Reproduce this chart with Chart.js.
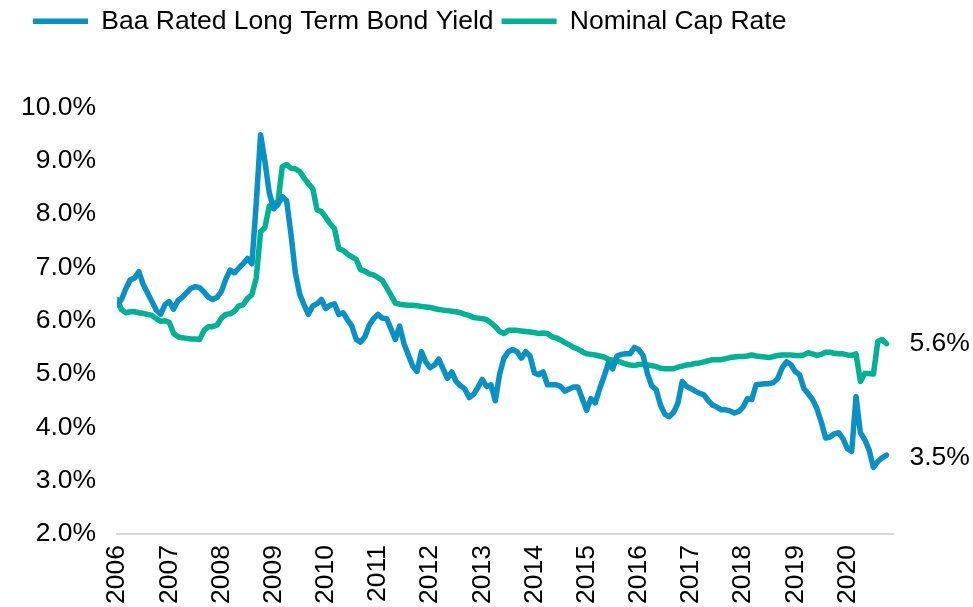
<!DOCTYPE html>
<html>
<head>
<meta charset="utf-8">
<script src="https://cdn.jsdelivr.net/npm/chart.js@4.4.1/dist/chart.umd.min.js"></script>
<style>
  html, body { margin: 0; padding: 0; background: #fff; }
  #wrap { width: 973px; height: 607px; }
</style>
</head>
<body>
<div id="wrap"><canvas id="yieldChart"></canvas></div>
<script>
// monthly, Jan 2006 .. Oct 2020
const years = ['2006','2007','2008','2009','2010','2011','2012','2013','2014','2015','2016','2017','2018','2019','2020'];

const baaYield = [
  6.30,6.40,6.60,6.77,6.80,6.92,6.68,6.52,6.36,6.20,6.12,6.30, // 2006
  6.36,6.22,6.38,6.44,6.53,6.61,6.64,6.62,6.54,6.44,6.40,6.44, // 2007
  6.55,6.78,6.95,6.90,6.99,7.07,7.17,7.07,8.20,9.49,8.99,8.40, // 2008
  8.10,8.18,8.33,8.25,7.62,6.90,6.50,6.30,6.12,6.28,6.32,6.40, // 2009
  6.23,6.29,6.32,6.12,6.15,6.02,5.90,5.65,5.60,5.70,5.92,6.04, // 2010
  6.12,6.05,6.04,5.85,5.65,5.90,5.57,5.36,5.15,5.05,5.42,5.23, // 2011
  5.12,5.17,5.28,5.10,4.92,5.04,4.86,4.78,4.72,4.56,4.62,4.75, // 2012
  4.90,4.77,4.80,4.50,5.00,5.30,5.42,5.46,5.42,5.30,5.42,5.34, // 2013
  5.02,4.99,5.04,4.80,4.80,4.80,4.77,4.68,4.72,4.76,4.76,4.54, // 2014
  4.32,4.54,4.46,4.72,4.95,5.20,5.10,5.34,5.37,5.38,5.38,5.50, // 2015
  5.46,5.35,5.01,4.78,4.71,4.42,4.25,4.20,4.28,4.45,4.86,4.77, // 2016
  4.73,4.68,4.64,4.61,4.50,4.42,4.38,4.33,4.33,4.31,4.27,4.30, // 2017
  4.38,4.54,4.52,4.80,4.81,4.82,4.82,4.84,4.92,5.12,5.23,5.18, // 2018
  5.05,4.99,4.73,4.63,4.52,4.35,4.10,3.80,3.82,3.88,3.90,3.79, // 2019
  3.60,3.55,4.58,3.90,3.77,3.58,3.25,3.36,3.43,3.48            // 2020
];

const capRate = [
  6.40,6.21,6.15,6.17,6.17,6.15,6.14,6.12,6.10,6.04,5.99,6.00, // 2006
  5.97,5.76,5.70,5.68,5.67,5.66,5.66,5.65,5.82,5.89,5.89,5.92, // 2007
  6.05,6.12,6.13,6.18,6.28,6.30,6.42,6.49,6.80,7.67,7.75,8.15, // 2008
  8.20,8.23,8.89,8.93,8.86,8.85,8.80,8.68,8.57,8.48,8.08,8.05, // 2009
  7.94,7.82,7.73,7.35,7.32,7.25,7.20,7.15,6.96,6.93,6.88,6.86, // 2010
  6.81,6.76,6.62,6.48,6.33,6.31,6.30,6.29,6.29,6.28,6.27,6.26, // 2011
  6.25,6.23,6.21,6.20,6.19,6.18,6.17,6.15,6.12,6.10,6.06,6.05, // 2012
  6.04,6.02,5.96,5.89,5.80,5.76,5.82,5.82,5.82,5.81,5.80,5.79, // 2013
  5.78,5.76,5.77,5.76,5.70,5.68,5.64,5.59,5.55,5.50,5.47,5.42, // 2014
  5.38,5.37,5.36,5.34,5.32,5.28,5.26,5.25,5.22,5.19,5.17,5.16, // 2015
  5.18,5.18,5.17,5.16,5.14,5.11,5.10,5.10,5.10,5.13,5.15,5.17, // 2016
  5.18,5.20,5.21,5.23,5.25,5.27,5.27,5.27,5.29,5.31,5.32,5.33, // 2017
  5.33,5.34,5.36,5.34,5.33,5.32,5.31,5.33,5.35,5.36,5.36,5.36, // 2018
  5.35,5.35,5.36,5.40,5.38,5.35,5.37,5.41,5.41,5.39,5.38,5.38, // 2019
  5.36,5.35,5.38,4.86,5.01,5.01,5.00,5.61,5.65,5.57            // 2020
];

const BLUE = '#0a90c2';
const GREEN = '#00b094';
const FONT = 'Arial, "Liberation Sans", sans-serif';
const FSIZE = 26.5;

const toPoints = arr => arr.map((v, i) => ({ x: i, y: v }));

// push plot area down below the legend, nudge legend right
const legendGap = {
  id: 'legendGap',
  beforeInit(chart) {
    const fit = chart.legend.fit;
    chart.legend.fit = function() {
      fit.bind(chart.legend)();
      this.height += 63;
    };
  },
  afterLayout(chart) {
    chart.legend.left += 25;
    chart.legend.right += 25;
  }
};

// value labels at the end of each line
const endLabels = {
  id: 'endLabels',
  afterDatasetsDraw(chart) {
    const ctx = chart.ctx;
    ctx.save();
    ctx.font = FSIZE + 'px ' + FONT;
    ctx.fillStyle = '#000';
    ctx.textAlign = 'left';
    ctx.textBaseline = 'middle';
    chart.data.datasets.forEach((ds, i) => {
      const pts = chart.getDatasetMeta(i).data;
      const last = pts[pts.length - 1];
      const v = ds.data[ds.data.length - 1].y;
      ctx.fillText(v.toFixed(1) + '%', last.x + 23, last.y + (i === 0 ? 3 : 0));
    });
    ctx.restore();
  }
};

new Chart(document.getElementById('yieldChart'), {
  type: 'line',
  data: {
    datasets: [
      {
        label: 'Baa Rated Long Term Bond Yield',
        data: toPoints(baaYield),
        borderColor: BLUE,
        backgroundColor: BLUE,
        borderWidth: 5.5,
        pointRadius: 0,
        tension: 0,
        borderCapStyle: 'round',
        borderJoinStyle: 'round'
      },
      {
        label: 'Nominal Cap Rate',
        data: toPoints(capRate),
        borderColor: GREEN,
        backgroundColor: GREEN,
        borderWidth: 5.5,
        pointRadius: 0,
        tension: 0,
        borderCapStyle: 'round',
        borderJoinStyle: 'round'
      }
    ]
  },
  options: {
    responsive: true,
    maintainAspectRatio: false,
    animation: false,
    layout: { padding: { left: 0, right: 80, top: 0, bottom: -8 } },
    plugins: {
      legend: {
        position: 'top',
        align: 'start',
        labels: {
          usePointStyle: true,
          pointStyle: 'line',
          pointStyleWidth: 55,
          boxHeight: 5,
          padding: 8,
          color: '#000',
          font: { family: FONT, size: FSIZE }
        }
      },
      tooltip: { enabled: false }
    },
    scales: {
      x: {
        type: 'linear',
        min: 0,
        max: 178.5,
        grid: { display: false, drawTicks: false },
        border: { display: true, color: '#d9d9d9', width: 2 },
        afterBuildTicks: scale => {
          scale.ticks = years.map((y, i) => ({ value: i * 12 }));
        },
        ticks: {
          autoSkip: false,
          minRotation: 90,
          maxRotation: 90,
          padding: 11,
          color: '#000',
          font: { family: FONT, size: FSIZE },
          callback: (val, idx) => years[idx]
        }
      },
      y: {
        min: 2,
        max: 10,
        grid: { display: false, drawTicks: false },
        border: { display: false },
        ticks: {
          stepSize: 1,
          padding: 21,
          color: '#000',
          font: { family: FONT, size: FSIZE },
          callback: v => v.toFixed(1) + '%'
        }
      }
    }
  },
  plugins: [legendGap, endLabels]
});
</script>
</body>
</html>
